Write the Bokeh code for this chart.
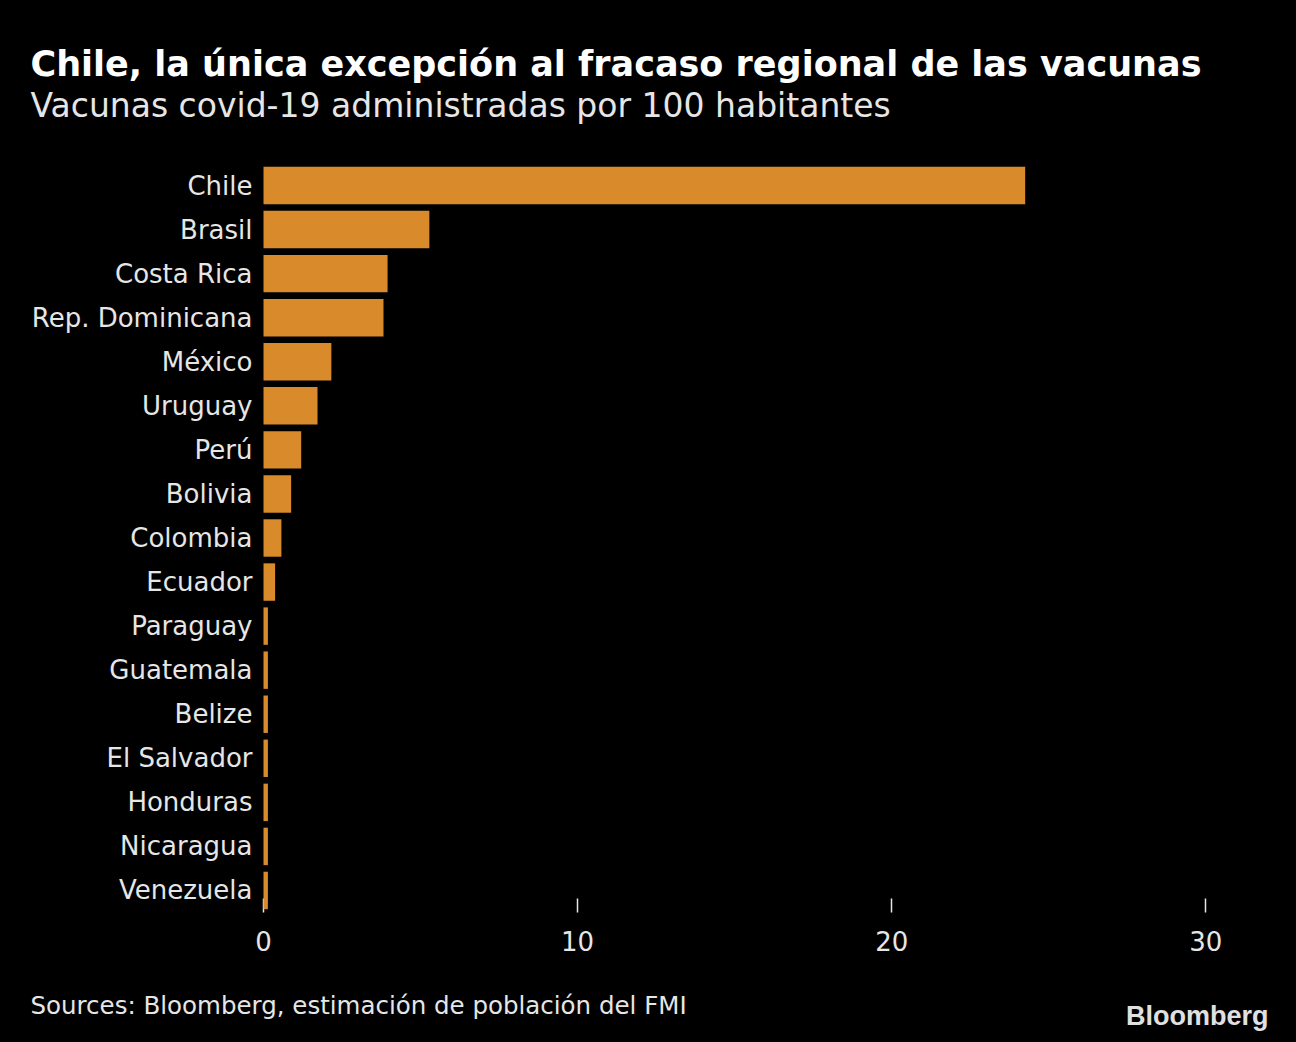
from bokeh.plotting import figure
from bokeh.models import FixedTicker, FactorRange, Range1d, Title
from bokeh.embed import file_html
from bokeh.resources import INLINE

countries = ["Chile", "Brasil", "Costa Rica", "Rep. Dominicana", "México", "Uruguay",
             "Perú", "Bolivia", "Colombia", "Ecuador", "Paraguay", "Guatemala",
             "Belize", "El Salvador", "Honduras", "Nicaragua", "Venezuela"]
values = [24.25, 5.28, 3.95, 3.82, 2.16, 1.72, 1.2, 0.88, 0.57, 0.37,
          0.14, 0.14, 0.14, 0.14, 0.14, 0.14, 0.14]
x_ticks = [0, 10, 20, 30]

title_text = "Chile, la única excepción al fracaso regional de las vacunas"
subtitle_text = "Vacunas covid-19 administradas por 100 habitantes"
source_text = "Sources: Bloomberg, estimación de población del FMI"
logo_text = "Bloomberg"

FONT = "DejaVu Sans"
BG = "#000000"
BAR = "#D98A2A"
TXT = "#E6E6E6"

p = figure(
    title=None,
    y_range=FactorRange(*countries[::-1], range_padding=0),
    x_range=Range1d(0, 31.2),
    width=1296, height=1042,
    min_border_left=263, min_border_right=53, min_border_top=163, min_border_bottom=130,
    output_backend="svg", toolbar_location=None,
    background_fill_color=BG, border_fill_color=BG,
)
p.outline_line_color = None

r = p.hbar(y=countries, right=values, left=0, height=0.85, color=BAR, line_color=None)
r.level = "overlay"

p.xgrid.visible = False
p.ygrid.visible = False

xa = p.xaxis[0]
xa.ticker = FixedTicker(ticks=x_ticks)
xa.axis_line_color = None
xa.major_tick_in = 14
xa.major_tick_out = 0
xa.major_tick_line_color = TXT
xa.major_tick_line_width = 1.5
xa.minor_tick_line_color = None
xa.major_label_text_font = FONT
xa.major_label_text_font_size = "26px"
xa.major_label_text_color = TXT
xa.major_label_standoff = 18

ya = p.yaxis[0]
ya.axis_line_color = None
ya.major_tick_line_color = None
ya.minor_tick_line_color = None
ya.major_label_text_font = FONT
ya.major_label_text_font_size = "26px"
ya.major_label_text_color = TXT
ya.major_label_standoff = 5

# above: first added is closest to the frame
p.add_layout(Title(text=" ", text_font_size="1px", standoff=35.6), "above")
p.add_layout(Title(text=subtitle_text, text_font=FONT, text_font_size="33px",
                   text_font_style="normal", text_color=TXT, align="left",
                   offset=-233, standoff=0), "above")
p.add_layout(Title(text=title_text, text_font=FONT, text_font_size="35px",
                   text_font_style="bold", text_color="#FFFFFF", align="left",
                   offset=-233, standoff=-1), "above")
# below: first added is closest to the frame
p.add_layout(Title(text=" ", text_font_size="1px", standoff=39), "below")
p.add_layout(Title(text=source_text, text_font=FONT, text_font_size="24.5px",
                   text_font_style="normal", text_color=TXT, align="left",
                   offset=-233, standoff=-14), "below")
p.add_layout(Title(text=logo_text, text_font="Liberation Sans", text_font_size="27px",
                   text_font_style="bold", text_color="#E0E0E0", align="right",
                   offset=-25, standoff=-26.7), "below")

html = file_html(p, INLINE)
html = html.replace("</head>", "<style>html,body{background:#000000;}</style></head>", 1)
open("out.html", "w").write(html)
